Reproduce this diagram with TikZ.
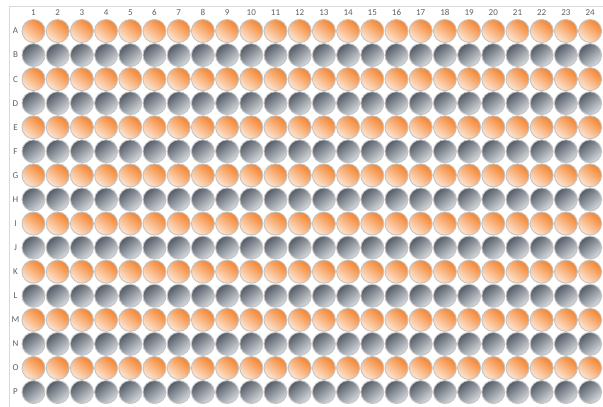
\documentclass[tikz,border=0pt]{standalone}
\usepackage{fontspec}
\setmainfont{Carlito}
\definecolor{orA}{HTML}{F4832E}
\definecolor{orB}{HTML}{FDE5D2}
\definecolor{grA}{HTML}{535B66}
\definecolor{grB}{HTML}{D8DBDF}
\definecolor{rim}{HTML}{C4C4C4}
\definecolor{lbl}{HTML}{606060}
\definecolor{frame}{HTML}{D9D9D9}
\tikzset{
  well/.style={circle,minimum size=23pt,inner sep=0pt,draw=rim,line width=0.9pt},
  orwell/.style={well,top color=orA,bottom color=orB,shading angle=-40},
  grwell/.style={well,top color=grA,bottom color=grB,shading angle=40},
  lab/.style={font=\fontsize{9}{10}\selectfont,text=lbl,inner sep=0pt}
}
\begin{document}
\begin{tikzpicture}[x=1pt,y=-1pt]
\useasboundingbox (0,0) rectangle (603,407);
\fill[white] (0,0) rectangle (603,407);
\coordinate (tl) at (9.5,6.5);
\coordinate (tr) at (603,6.5);
\coordinate (bl) at (9.5,407);
\draw[frame,line width=0.8pt] (tr) -- (tl) -- (bl);
\foreach \c in {1,...,24}{
  \node[lab] (col\c) at ({33.5+(\c-1)*24.2},12.5) {\c};
}
\foreach \r [count=\i from 0] in {A,B,C,D,E,F,G,H,I,J,K,L,M,N,O,P}{
  \node[lab] (row\r) at (15.5,{31+\i*24.07}) {\r};
  \pgfmathtruncatemacro{\odd}{mod(\i,2)}
  \foreach \c in {1,...,24}{
    \ifnum\odd=0
      \node[orwell] (w\r\c) at ({33.5+(\c-1)*24.2},{31+\i*24.07}) {};
    \else
      \node[grwell] (w\r\c) at ({33.5+(\c-1)*24.2},{31+\i*24.07}) {};
    \fi
  }
}
\end{tikzpicture}
\end{document}
